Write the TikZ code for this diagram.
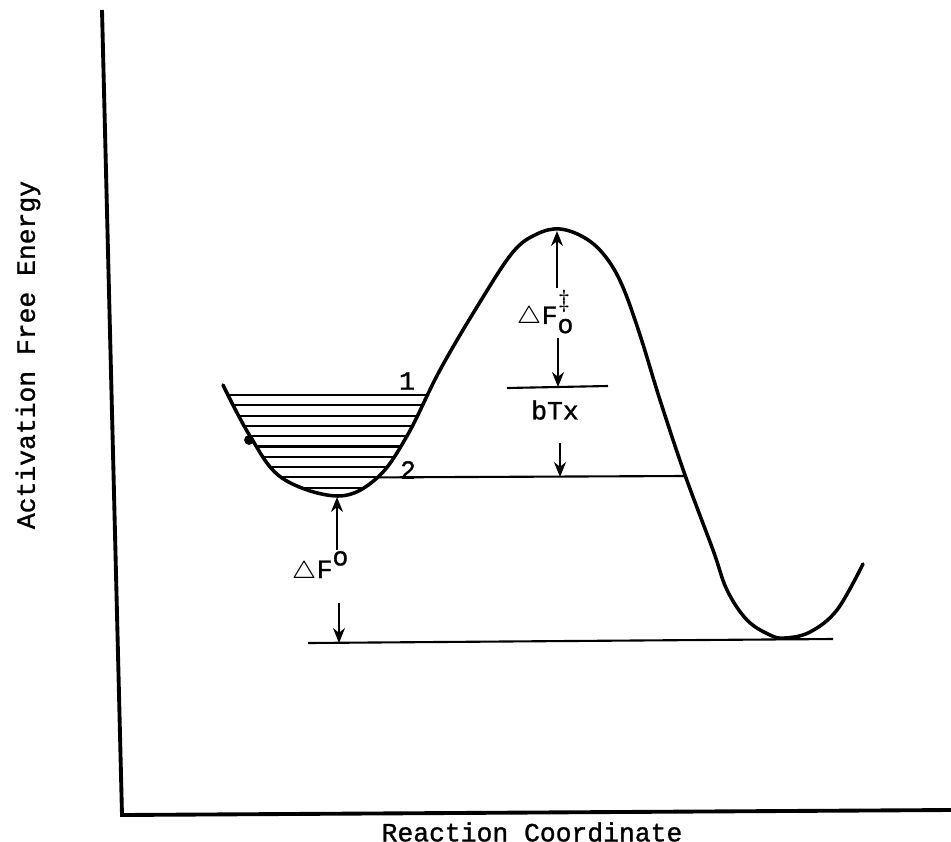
\documentclass[tikz,border=0pt]{standalone}
\usepackage{fontspec}
\newfontfamily\typer{Liberation Mono}[FakeBold=1.2]
\usetikzlibrary{arrows.meta, positioning}
\tikzset{
    base/.style = {font=\typer\fontsize{7.5}{9}\selectfont, inner sep=1pt},
    % Curve, axes and levels
    curve/.style = {line width=1pt, line join=round, line cap=round},
    axis/.style  = {line width=1.1pt, line join=miter},
    level/.style = {line width=0.6pt},
    % Edges and annotations
    arrow/.style = {line width=0.5pt, -{Stealth[length=1.5mm, width=1.2mm]}},
    annot/.style = {base, align=center}
}

\begin{document}
\begin{tikzpicture}[x=0.01cm, y=-0.01cm]
    \useasboundingbox (0,0) rectangle (951,842);

    % axes
    \coordinate (ytop) at (102,10);
    \coordinate (origin) at (122,815);
    \coordinate (xend) at (951,810);
    \draw [axis] (ytop) -- (origin) -- (xend);
    \node (ylabel) [annot, rotate=90] at (28,355) {Activation Free Energy};
    \node (xlabel) [annot] at (532,832) {Reaction Coordinate};

    % free energy curve
    \draw [curve] plot [smooth, tension=0.6] coordinates {
        (223,385) (250,436) (282,478) (338,496) (377,478) (407,436)
        (440,370) (480,302) (513,252) (537,234) (560,229) (585,238)
        (605,256) (622,285) (640,335) (660,400) (685,475) (713,550)
        (727,590) (747,620) (770,635) (785,638) (810,632) (837,610)
        (863,564)};

    % levels in the well
    \begin{scope}
        \clip plot [smooth, tension=0.6] coordinates {
            (223,385) (250,436) (282,478) (338,496) (377,478) (407,436)
            (440,370) (480,302) (513,252) (537,234) (560,229) (585,238)
            (605,256) (622,285) (640,335) (660,400) (685,475) (713,550)
            (727,590) (747,620) (770,635) (785,638) (810,632) (837,610)
            (863,564)}
            -- (863,0) -- (223,0) -- cycle;
        \foreach \y in {395,405.3,415.6,425.9,436.2,446.5,456.8,467.1,477.4,487.7}
            \draw [level] (210,\y) -- (450,\y);
    \end{scope}
    \fill (249,440) circle (1.4pt);

    \coordinate (peak) at (557,231);
    \coordinate (bTxL) at (507,388);
    \coordinate (bTxR) at (608,386);
    \coordinate (bTxmid) at (558,387);
    \coordinate (lvl2L) at (377,477.4);
    \coordinate (lvl2R) at (685,476);
    \coordinate (lvl2mid) at (560,477);
    \coordinate (wellmin) at (337,497);
    \coordinate (baseL) at (308,643);
    \coordinate (baseR) at (833,639);
    \coordinate (basemid) at (339,643);

    \draw [level] (bTxL) -- (bTxR);
    \draw [level] (lvl2L) -- (lvl2R);
    \draw [level] (baseL) -- (baseR);

    \node (lbl1) [annot] at (407,381) {1};
    \node (lbl2) [annot] at (408,470) {2};

    % barrier heights
    \node (dFdag) [annot] at (545,312)
        {$\triangle$F\rlap{\raisebox{4.6pt}{$\ddagger$}}\raisebox{-2.6pt}{o}};
    \node (bTx) [annot] at (555,410) {bTx};
    \node (dF0) [annot] at (320,567) {$\triangle$F\raisebox{3.6pt}{o}};
    \coordinate (dFtop) at (557,288);
    \coordinate (dFtail) at (558,338);
    \coordinate (bTxtail) at (560,443);
    \coordinate (dF0top) at (337,550);
    \coordinate (dF0tail) at (339,603);

    \draw [arrow] (dFtop) -- (peak);
    \draw [arrow] (dFtail) -- (bTxmid);
    \draw [arrow] (bTxtail) -- (lvl2mid);
    \draw [arrow] (dF0top) -- (wellmin);
    \draw [arrow] (dF0tail) -- (basemid);
\end{tikzpicture}
\end{document}
